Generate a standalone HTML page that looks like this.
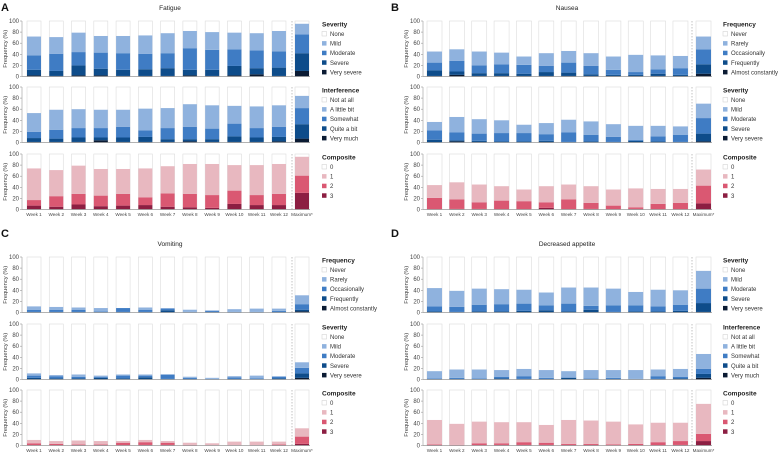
<!DOCTYPE html>
<html><head><meta charset="utf-8"><style>
body{margin:0;background:#fff;}
svg{display:block;font-family:"Liberation Sans",sans-serif;}
</style></head><body>
<svg id="c" width="778" height="454" viewBox="0 0 778 454"></svg>
<script>
const categories=["Week 1","Week 2","Week 3","Week 4","Week 5","Week 6","Week 7","Week 8","Week 9","Week 10","Week 11","Week 12","Maximum*"];
const yTicks=[0,20,40,60,80,100];
// Fatigue
const fatSevVerySevere=[2,1,2,2,1,1,1,2,1,2,4,1,10];
const fatSevSevere=[10,9,18,12,11,12,14,10,11,17,11,15,32];
const fatSevModerate=[26,31,24,29,30,28,27,39,36,30,32,29,34];
const fatSevMild=[34,30,35,30,31,33,36,31,32,30,31,37,19];
const fatIntVeryMuch=[1,1,1,4,1,1,1,2,1,1,1,2,7];
const fatIntQuiteABit=[7,6,8,5,8,9,5,4,5,10,8,8,26];
const fatIntSomewhat=[11,16,17,17,19,12,20,22,19,23,17,18,29];
const fatIntALittle=[34,36,34,33,31,39,36,41,42,32,39,39,22];
const fatComp3=[7,5,9,6,7,8,5,4,3,10,8,8,30];
const fatComp2=[10,19,19,19,21,14,24,24,23,24,18,20,31];
const fatComp1=[57,47,51,48,45,52,49,54,56,46,54,54,34];
// Nausea
const nauFreqAlmost=[1,3,1,1,1,1,1,1,1,1,1,1,5];
const nauFreqFrequently=[10,6,5,5,4,7,6,3,2,2,4,2,17];
const nauFreqOccasionally=[14,19,14,16,16,11,18,15,9,5,8,12,27];
const nauFreqRarely=[20,21,25,21,15,23,21,23,24,31,25,22,23];
const nauSevVerySevere=[0,2,1,0,0,1,0,0,0,0,0,0,2];
const nauSevSevere=[5,2,2,2,2,2,1,2,1,3,2,1,14];
const nauSevModerate=[17,14,13,15,15,12,17,12,9,2,9,13,28];
const nauSevMild=[15,28,26,23,15,20,23,24,23,25,19,15,26];
const nauComp3=[0,1,1,0,0,3,0,1,0,1,0,0,11];
const nauComp2=[21,17,12,16,15,10,18,11,7,3,10,12,32];
const nauComp1=[23,31,32,26,21,29,27,30,29,34,27,25,29];
// Vomiting
const vomFreqAlmost=[0,0,0,0,0,0,0,0,0,0,0,0,2];
const vomFreqFrequently=[1,1,1,1,1,1,4,0,1,0,0,1,3];
const vomFreqOccasionally=[4,4,4,1,7,4,3,1,2,1,1,2,10];
const vomFreqRarely=[6,5,4,6,0,4,1,4,1,5,6,4,16];
const vomSevVerySevere=[0,0,0,0,0,0,0,0,0,0,0,0,3];
const vomSevSevere=[3,2,2,3,2,4,1,1,0,1,0,2,8];
const vomSevModerate=[4,4,3,2,5,3,8,2,1,3,2,3,10];
const vomSevMild=[4,2,4,2,2,2,0,2,2,2,5,1,10];
const vomComp3=[0,0,1,1,0,1,1,0,0,0,0,1,3];
const vomComp2=[4,3,1,1,5,5,4,1,0,0,0,1,13];
const vomComp1=[6,5,7,6,3,4,3,4,4,7,7,5,15];
// Decreased appetite
const appSevVerySevere=[0,0,0,0,0,0,0,0,0,0,0,0,1];
const appSevSevere=[2,1,2,2,3,4,2,5,1,2,2,3,16];
const appSevModerate=[9,9,12,13,13,9,14,7,12,11,9,11,26];
const appSevMild=[33,29,29,27,25,23,29,33,30,24,30,26,32];
const appIntVeryMuch=[0,0,0,0,0,0,0,0,0,0,0,0,3];
const appIntQuiteABit=[1,1,1,2,1,1,3,1,1,0,1,2,7];
const appIntSomewhat=[1,2,1,3,5,2,1,1,2,1,5,3,9];
const appIntALittle=[13,15,16,12,13,14,11,15,14,16,12,14,27];
const appComp3=[1,0,0,1,1,1,1,1,0,0,0,1,8];
const appComp2=[1,1,4,3,5,4,2,2,2,3,6,7,13];
const appComp1=[44,38,39,38,36,32,43,42,41,35,35,33,54];

const BLUE=["#0b1b33","#0e4c8a","#3f7cc4","#8fb2de"];
const RED=["#8c1e42","#da5872","#e8b8c0"];
const NS="http://www.w3.org/2000/svg";
const svg=document.getElementById('c');
function el(tag,attrs,parent,text){const e=document.createElementNS(NS,tag);for(const k in attrs)e.setAttribute(k,attrs[k]);if(text!==undefined)e.textContent=text;(parent||svg).appendChild(e);return e;}

const panels=[
 {letter:"A",title:"Fatigue",lx:0,ly:0,axisX:22,bar0:27,pitch:22.27,bw:14,dash:292,maxX:295,axisEnd:310,legX:322,tops:[21,87,154],labY:216,titleX:170,titleY:10,
  subs:[{name:"Severity",labels:["None","Mild","Moderate","Severe","Very severe"],series:[fatSevVerySevere,fatSevSevere,fatSevModerate,fatSevMild],colors:BLUE},
        {name:"Interference",labels:["Not at all","A little bit","Somewhat","Quite a bit","Very much"],series:[fatIntVeryMuch,fatIntQuiteABit,fatIntSomewhat,fatIntALittle],colors:BLUE},
        {name:"Composite",labels:["0","1","2","3"],series:[fatComp3,fatComp2,fatComp1],colors:RED}]},
 {letter:"B",title:"Nausea",lx:390,ly:0,axisX:423,bar0:427,pitch:22.36,bw:15,dash:692,maxX:696,axisEnd:712,legX:723,tops:[21,87,154],labY:216,titleX:567,titleY:10,
  subs:[{name:"Frequency",labels:["Never","Rarely","Occasionally","Frequently","Almost constantly"],series:[nauFreqAlmost,nauFreqFrequently,nauFreqOccasionally,nauFreqRarely],colors:BLUE},
        {name:"Severity",labels:["None","Mild","Moderate","Severe","Very severe"],series:[nauSevVerySevere,nauSevSevere,nauSevModerate,nauSevMild],colors:BLUE},
        {name:"Composite",labels:["0","1","2","3"],series:[nauComp3,nauComp2,nauComp1],colors:RED}]},
 {letter:"C",title:"Vomiting",lx:0,ly:226,axisX:22,bar0:27,pitch:22.27,bw:14,dash:292,maxX:295,axisEnd:310,legX:322,tops:[257,324,390],labY:452,titleX:170,titleY:246,
  subs:[{name:"Frequency",labels:["Never","Rarely","Occasionally","Frequently","Almost constantly"],series:[vomFreqAlmost,vomFreqFrequently,vomFreqOccasionally,vomFreqRarely],colors:BLUE},
        {name:"Severity",labels:["None","Mild","Moderate","Severe","Very severe"],series:[vomSevVerySevere,vomSevSevere,vomSevModerate,vomSevMild],colors:BLUE},
        {name:"Composite",labels:["0","1","2","3"],series:[vomComp3,vomComp2,vomComp1],colors:RED}]},
 {letter:"D",title:"Decreased appetite",lx:390,ly:226,axisX:423,bar0:427,pitch:22.36,bw:15,dash:692,maxX:696,axisEnd:712,legX:723,tops:[257,324,390],labY:452,titleX:567,titleY:246,
  subs:[{name:"Severity",labels:["None","Mild","Moderate","Severe","Very severe"],series:[appSevVerySevere,appSevSevere,appSevModerate,appSevMild],colors:BLUE},
        {name:"Interference",labels:["Not at all","A little bit","Somewhat","Quite a bit","Very much"],series:[appIntVeryMuch,appIntQuiteABit,appIntSomewhat,appIntALittle],colors:BLUE},
        {name:"Composite",labels:["0","1","2","3"],series:[appComp3,appComp2,appComp1],colors:RED}]}
];
const H=55.5;
panels.forEach(p=>{
  const g=el('g',{});
  
  
  const L=el('text',{x:p.lx+1,y:p.ly+11,'font-size':11,'font-weight':'bold',fill:'#111'},g,p.letter);
  
  const T=el('text',{x:p.titleX,y:p.titleY,'font-size':6.5,'text-anchor':'middle',fill:'#222'},g,p.title);
  
  const xPos=i=>i<12?p.bar0+i*p.pitch:p.maxX;
  p.subs.forEach((s,si)=>{
    const top=p.tops[si],base=top+H;
    const y=v=>base-v/100*H;
    const sg=el('g',{},g);
    
    
    const ax=el('line',{x1:p.axisX,y1:top,x2:p.axisX,y2:base,stroke:'#999','stroke-width':0.6},sg);
    
    yTicks.forEach(t=>{
      el('line',{x1:p.axisX-2,x2:p.axisX,y1:y(t),y2:y(t),stroke:'#999','stroke-width':0.6},sg);
      const tl=el('text',{x:p.axisX-3,y:y(t)+2,'font-size':6,'text-anchor':'end',fill:'#444'},sg,t);
      
    });
    const yl=el('text',{x:0,y:0,'font-size':5.8,'text-anchor':'middle',fill:'#444',transform:`translate(${p.axisX-15},${(top+base)/2}) rotate(-90)`},sg,'Frequency (%)');
    
    categories.forEach((c,i)=>{
      const x=xPos(i);
      const bg=el('rect',{x:x,y:top,width:p.bw,height:H,fill:'#fff',stroke:'#dcdcdc','stroke-width':0.6},sg);
      
      let cum=0;
      s.series.forEach((arr,k)=>{
        const v=arr[i];
        if(v>0){
          const r=el('rect',{x:x,y:y(cum+v),width:p.bw,height:y(cum)-y(cum+v),fill:s.colors[k]},sg);
          
          
        }
        cum+=v;
      });
    });
    const xa=el('line',{x1:p.axisX,y1:base,x2:p.axisEnd,y2:base,stroke:'#999','stroke-width':0.7},sg);
    
    const d=el('line',{x1:p.dash,y1:top,x2:p.dash,y2:base,stroke:'#999','stroke-width':0.6,'stroke-dasharray':'1.5,1.5'},sg);
    
    const lg=el('g',{},sg);
    
    
    const lt=el('text',{x:p.legX,y:top+5.5,'font-size':6.5,'font-weight':'bold',fill:'#222'},lg,s.name);
    
    const cols=['#fff'].concat(s.colors.slice().reverse());
    s.labels.forEach((lab,k)=>{
      const ly=top+15+k*9.6;
      const e=el('g',{},lg);
      
      
      el('rect',{x:p.legX,y:ly-4.5,width:4.5,height:4.5,fill:cols[k],stroke:k==0?'#ccc':'none','stroke-width':0.5},e);
      el('text',{x:p.legX+8,y:ly,'font-size':6,fill:'#333'},e,lab);
    });
  });
  categories.forEach((c,i)=>{
    const t=el('text',{x:xPos(i)+p.bw/2,y:p.labY,'font-size':4.6,'text-anchor':'middle',fill:'#444'},g,c);
    
  });
});
</script>
</body></html>
